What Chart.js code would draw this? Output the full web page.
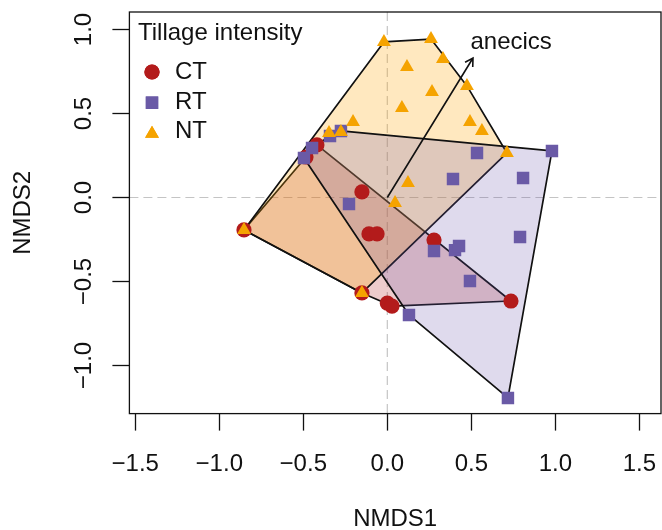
<!DOCTYPE html>
<html>
<head>
<meta charset="utf-8">
<script src="https://cdn.jsdelivr.net/npm/chart.js@4.4.1/dist/chart.umd.min.js"></script>
<style>
  html, body { margin: 0; padding: 0; background: #fff; }
</style>
</head>
<body>
<canvas id="chart" width="662" height="530"></canvas>
<script>
// NMDS site scores per tillage group
const ctX = [-0.853, -0.419, -0.484, -0.151, -0.109, -0.061, 0.278, 0.736, -0.151, 0.000, 0.028];
const ctY = [-0.193, 0.313, 0.241, 0.033, -0.217, -0.217, -0.253, -0.616, -0.568, -0.628, -0.646];
const rtX = [-0.341, -0.276, -0.448, -0.496, -0.228, 0.391, 0.534, 0.980, 0.808, 0.278, 0.403, 0.427, 0.790, 0.492, 0.129, 0.718];
const rtY = [0.366, 0.396, 0.295, 0.235, -0.039, 0.110, 0.265, 0.277, 0.116, -0.318, -0.313, -0.289, -0.235, -0.497, -0.699, -1.193];
const ntX = [-0.020, 0.260, 0.331, 0.117, 0.474, 0.266, 0.087, -0.204, -0.276, -0.347, 0.492, 0.563, 0.712, 0.123, 0.046, -0.853, -0.151];
const ntY = [0.926, 0.943, 0.824, 0.777, 0.664, 0.628, 0.533, 0.449, 0.390, 0.384, 0.449, 0.396, 0.265, 0.086, -0.033, -0.193, -0.568];

const groupNames = ['CT', 'RT', 'NT'];
const xTicks = [-1.5, -1.0, -0.5, 0.0, 0.5, 1.0, 1.5];
const yTicks = [-1.0, -0.5, 0.0, 0.5, 1.0];

// envfit vector
const arrowEnd = [0.510, 0.830];
const arrowLabel = 'anecics';
const arrowLabelAt = [0.737, 0.926];

const colCT = '#B31B1B';
const colRT = '#6A5AA6';
const colNT = '#F5A300';
const fillCT = 'rgba(178, 34, 34, 0.23)';
const fillRT = 'rgba(106, 81, 170, 0.21)';
const fillNT = 'rgba(255, 165, 0, 0.25)';

const fontFamily = '"Liberation Sans", Arial, Helvetica, sans-serif';

// plot box in canvas pixels
const box = { left: 129.4, top: 12, right: 661, bottom: 413.6 };

function toPoints(xs, ys) {
  return xs.map(function(v, i) { return { x: v, y: ys[i] }; });
}

function convexHull(xs, ys) {
  const p = toPoints(xs, ys).map(function(q) { return [q.x, q.y]; })
    .sort(function(a, b) { return a[0] - b[0] || a[1] - b[1]; });
  const cross = function(o, a, b) { return (a[0] - o[0]) * (b[1] - o[1]) - (a[1] - o[1]) * (b[0] - o[0]); };
  const lower = [], upper = [];
  p.forEach(function(q) {
    while (lower.length >= 2 && cross(lower[lower.length - 2], lower[lower.length - 1], q) <= 0) lower.pop();
    lower.push(q);
  });
  p.slice().reverse().forEach(function(q) {
    while (upper.length >= 2 && cross(upper[upper.length - 2], upper[upper.length - 1], q) <= 0) upper.pop();
    upper.push(q);
  });
  return lower.slice(0, -1).concat(upper.slice(0, -1));
}

function fmt(v) {
  return (v < 0 ? '\u2212' : '') + Math.abs(v).toFixed(1);
}

const hulls = [
  { pts: convexHull(ctX, ctY), fill: fillCT },
  { pts: convexHull(ntX, ntY), fill: fillNT },
  { pts: convexHull(rtX, rtY), fill: fillRT }
];

const legendItems = [
  { text: groupNames[0], style: 'circle',   radius: 7.6, color: colCT, y: 72 },
  { text: groupNames[1], style: 'rect',     radius: 8.8, color: colRT, y: 102.7 },
  { text: groupNames[2], style: 'triangle', radius: 8,   color: colNT, y: 133.7 }
];

const ordiPlugin = {
  id: 'ordi',
  afterLayout(chart) {
    // pin the plot box where R put it
    const a = chart.chartArea;
    a.left = box.left; a.right = box.right; a.top = box.top; a.bottom = box.bottom;
    a.width = box.right - box.left; a.height = box.bottom - box.top;
    const sx = chart.scales.x, sy = chart.scales.y;
    sx.left = box.left; sx.right = box.right; sx.width = a.width;
    sx.top = box.bottom; sx.bottom = chart.height; sx.height = chart.height - box.bottom;
    sx.configure();
    sy.left = 0; sy.right = box.left; sy.width = box.left;
    sy.top = box.top; sy.bottom = box.bottom; sy.height = a.height;
    sy.configure();
  },
  beforeDatasetsDraw(chart) {
    const ctx = chart.ctx;
    const a = chart.chartArea;
    const sx = chart.scales.x, sy = chart.scales.y;

    // dashed zero lines
    ctx.save();
    ctx.beginPath();
    ctx.rect(a.left, a.top, a.right - a.left, a.bottom - a.top);
    ctx.clip();
    ctx.strokeStyle = '#c4c4c4';
    ctx.lineWidth = 1.2;
    ctx.setLineDash([9, 5]);
    ctx.beginPath();
    ctx.moveTo(a.left, sy.getPixelForValue(0));
    ctx.lineTo(a.right, sy.getPixelForValue(0));
    ctx.moveTo(sx.getPixelForValue(0), a.top);
    ctx.lineTo(sx.getPixelForValue(0), a.bottom);
    ctx.stroke();
    ctx.setLineDash([]);

    // hulls
    hulls.forEach(function(h) {
      ctx.beginPath();
      h.pts.forEach(function(q, i) {
        const px = sx.getPixelForValue(q[0]), py = sy.getPixelForValue(q[1]);
        if (i === 0) ctx.moveTo(px, py); else ctx.lineTo(px, py);
      });
      ctx.closePath();
      ctx.fillStyle = h.fill;
      ctx.fill();
      ctx.strokeStyle = '#111';
      ctx.lineWidth = 1.7;
      ctx.lineJoin = 'round';
      ctx.stroke();
    });
    ctx.restore();
  },
  afterDatasetsDraw(chart) {
    const ctx = chart.ctx;
    const a = chart.chartArea;
    const sx = chart.scales.x, sy = chart.scales.y;

    // arrow
    const x0 = sx.getPixelForValue(0), y0 = sy.getPixelForValue(0);
    const x1 = sx.getPixelForValue(arrowEnd[0]), y1 = sy.getPixelForValue(arrowEnd[1]);
    const ang = Math.atan2(y1 - y0, x1 - x0);
    const head = 9;
    ctx.save();
    ctx.strokeStyle = '#111';
    ctx.lineWidth = 1.6;
    ctx.beginPath();
    ctx.moveTo(x0, y0);
    ctx.lineTo(x1, y1);
    ctx.moveTo(x1 - head * Math.cos(ang - Math.PI / 6), y1 - head * Math.sin(ang - Math.PI / 6));
    ctx.lineTo(x1, y1);
    ctx.lineTo(x1 - head * Math.cos(ang + Math.PI / 6), y1 - head * Math.sin(ang + Math.PI / 6));
    ctx.stroke();

    ctx.fillStyle = '#111';
    ctx.font = '24px ' + fontFamily;
    ctx.textAlign = 'center';
    ctx.textBaseline = 'middle';
    ctx.fillText(arrowLabel, sx.getPixelForValue(arrowLabelAt[0]), sy.getPixelForValue(arrowLabelAt[1]));

    // legend
    ctx.textAlign = 'left';
    ctx.fillText('Tillage intensity', 138, 33);
    legendItems.forEach(function(it) {
      ctx.fillStyle = it.color;
      Chart.helpers.drawPoint(ctx, { pointStyle: it.style, radius: it.radius, rotation: 0, borderWidth: 0 }, 152, it.y);
      ctx.fill();
      ctx.fillStyle = '#111';
      ctx.fillText(it.text, 175, it.y - (it.style === 'triangle' ? 2 : 0));
    });

    // box
    ctx.strokeStyle = '#111';
    ctx.lineWidth = 1.3;
    ctx.strokeRect(a.left, a.top, a.right - a.left, a.bottom - a.top);
    ctx.restore();
  }
};

new Chart(document.getElementById('chart'), {
  type: 'scatter',
  data: {
    datasets: [
      { label: 'NT', data: toPoints(ntX, ntY), pointStyle: 'triangle', pointRadius: 8,
        backgroundColor: colNT, borderColor: colNT, borderWidth: 0 },
      { label: 'RT', data: toPoints(rtX, rtY), pointStyle: 'rect', pointRadius: 8.8,
        backgroundColor: colRT, borderColor: colRT, borderWidth: 0 },
      { label: 'CT', data: toPoints(ctX, ctY), pointStyle: 'circle', pointRadius: 7.6,
        backgroundColor: colCT, borderColor: colCT, borderWidth: 0 }
    ]
  },
  options: {
    responsive: false,
    animation: false,
    devicePixelRatio: 1,
    layout: { padding: { top: 12, right: 1, left: 0, bottom: 0 } },
    plugins: { legend: { display: false }, tooltip: { enabled: false } },
    scales: {
      x: {
        type: 'linear', min: -1.535, max: 1.629,
        afterBuildTicks: function(s) { s.ticks = xTicks.map(function(v) { return { value: v }; }); },
        afterFit: function(s) { s.height = 116.4; },
        grid: { drawOnChartArea: false, tickLength: 17, tickColor: '#111', tickWidth: 1.3 },
        border: { display: false },
        ticks: { font: { family: fontFamily, size: 24 }, color: '#111', padding: 19,
                 maxRotation: 0, autoSkip: false, callback: fmt },
        title: { display: true, text: 'NMDS1', color: '#111', padding: 0,
                 font: { family: fontFamily, size: 24, lineHeight: '22px' } }
      },
      y: {
        type: 'linear', min: -1.286, max: 1.104,
        afterBuildTicks: function(s) { s.ticks = yTicks.map(function(v) { return { value: v }; }); },
        afterFit: function(s) { s.width = 129.4; },
        grid: { drawOnChartArea: false, tickLength: 17, tickColor: '#111', tickWidth: 1.3 },
        border: { display: false },
        ticks: { font: { family: fontFamily, size: 24 }, color: '#111', padding: 4, minRotation: 90, maxRotation: 90,
                 crossAlign: 'center', autoSkip: false, callback: fmt },
        title: { display: true, text: 'NMDS2', color: '#111', padding: { top: 8.6, bottom: 0 },
                 font: { family: fontFamily, size: 24 } }
      }
    }
  },
  plugins: [ordiPlugin]
});
</script>
</body>
</html>
